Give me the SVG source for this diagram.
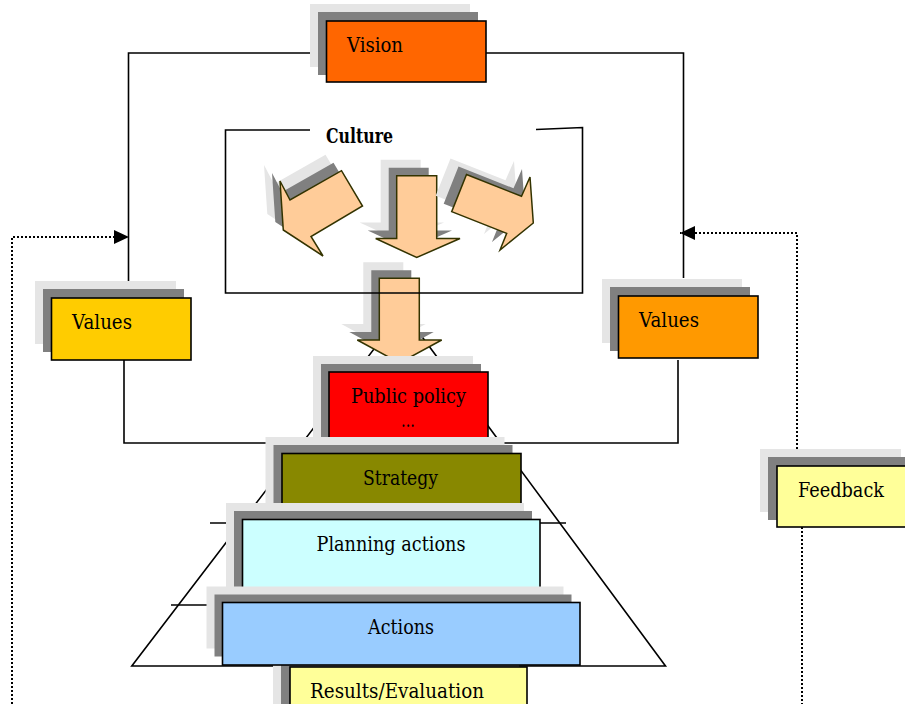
<svg xmlns="http://www.w3.org/2000/svg" xmlns:xlink="http://www.w3.org/1999/xlink" width="905" height="704" viewBox="0 0 905 704">
<style>
  .ln{fill:none;stroke:#000;stroke-width:1.6}
  .dot{fill:none;stroke:#000;stroke-width:2;stroke-dasharray:2 2}
  .s2{fill:#e5e5e5;stroke:none}
  .s1{fill:#808080;stroke:none}
  .bx{stroke:#000;stroke-width:1.6}
  .ar{fill:#ffcc99;stroke:#333300;stroke-width:1.5;stroke-linejoin:miter}
  .t{font-family:"DejaVu Serif","Liberation Serif",serif;font-size:20px;fill:#000}
  .tb{font-family:"DejaVu Serif","Liberation Serif",serif;font-size:21px;font-weight:bold;fill:#000}
</style>
<defs>
  <marker id="ah" markerUnits="userSpaceOnUse" markerWidth="15" markerHeight="14" refX="15" refY="7" orient="auto">
    <path d="M0,0 L15,7 L0,14 z" fill="#000"/>
  </marker>
  <polygon id="aL" points="280,181 290,200 341.5,170.7 362.5,206 311,236.5 323,256 283.3,230"/>
  <polygon id="aM" points="396.7,175.7 436.7,175.7 436.7,238.5 460,238.5 416.7,257.5 375.7,238.5 396.7,238.5"/>
  <polygon id="aR" points="466.5,174.5 521.5,196.3 530,177 533.3,223 500,250 506.7,233.3 451.7,211.7"/>
  <polygon id="aB" points="379.3,278.3 419.3,278.3 419.3,340 441.7,340 399.5,363 357.3,340 379.3,340"/>
</defs>

<g id="connectors">
  <polyline class="ln" points="128.5,281 128.5,53 683.5,53 683.5,278"/>
  <polyline class="ln" points="124,360 124,443 678,443 678,360"/>
  <path class="dot" d="M12,704 L12,237 L129,237" marker-end="url(#ah)"/>
  <path class="dot" d="M797,449 L797,233 L680,233" marker-end="url(#ah)"/>
  <path class="dot" d="M802,527 L802,704"/>
</g>

<g id="pyramid">
  <polygon class="ln" points="403,311 665.5,666 131.8,666"/>
  <line class="ln" x1="210" y1="523" x2="566" y2="523"/>
  <line class="ln" x1="171" y1="605" x2="400" y2="605"/>
</g>

<g id="culture">
  <use href="#aL" class="s2" x="-16" y="-16"/>
  <use href="#aL" class="s1" x="-8" y="-8"/>
  <use href="#aL" class="ar"/>
  <use href="#aM" class="s2" x="-16" y="-16"/>
  <use href="#aM" class="s1" x="-8" y="-8"/>
  <use href="#aM" class="ar"/>
  <use href="#aR" class="s2" x="-16" y="-16"/>
  <use href="#aR" class="s1" x="-8" y="-8"/>
  <use href="#aR" class="ar"/>
  <use href="#aB" class="s2" x="-16" y="-16"/>
  <use href="#aB" class="s1" x="-8" y="-8"/>
  <use href="#aB" class="ar"/>
  <polyline class="ln" points="310,130 225.5,130 225.5,293 582.5,293 582.5,127.5 536,129.5"/>
  <text class="tb" x="326" y="143" textLength="67" lengthAdjust="spacingAndGlyphs">Culture</text>
</g>

<g id="public-policy">
  <rect class="s2" x="313" y="356" width="160" height="90"/>
  <rect class="s1" x="321" y="364" width="160" height="90"/>
  <rect class="bx" fill="#ff0000" x="329" y="372" width="159" height="80"/>
  <text class="t" x="351" y="403" textLength="115" lengthAdjust="spacingAndGlyphs">Public policy</text>
  <text class="t" x="401" y="427" textLength="14" lengthAdjust="spacingAndGlyphs">...</text>
</g>

<g id="strategy">
  <rect class="s2" x="265.5" y="437" width="239" height="75"/>
  <rect class="s1" x="273.5" y="445" width="239" height="75"/>
  <rect class="bx" fill="#888800" x="282" y="453.5" width="239" height="60"/>
  <text class="t" x="363" y="485" textLength="75" lengthAdjust="spacingAndGlyphs">Strategy</text>
</g>

<g id="planning-actions">
  <rect class="s2" x="226" y="503" width="298" height="90"/>
  <rect class="s1" x="234" y="511" width="298" height="90"/>
  <rect class="bx" fill="#ccffff" x="242.5" y="519.5" width="297.5" height="72"/>
  <text class="t" x="316.5" y="551" textLength="149" lengthAdjust="spacingAndGlyphs">Planning actions</text>
</g>

<g id="results-evaluation">
  <rect class="s2" x="273" y="665" width="238" height="50"/>
  <rect class="s1" x="281" y="665" width="238" height="50"/>
  <rect class="bx" fill="#ffff99" x="290" y="667" width="237" height="50"/>
  <text class="t" x="310" y="698" textLength="174" lengthAdjust="spacingAndGlyphs">Results/Evaluation</text>
</g>

<g id="actions">
  <rect class="s2" x="206.5" y="586.5" width="357" height="62"/>
  <rect class="s1" x="214.5" y="594.5" width="357" height="62"/>
  <rect class="bx" fill="#99ccff" x="222.5" y="602.5" width="357.5" height="62.5"/>
  <text class="t" x="368" y="634" textLength="66" lengthAdjust="spacingAndGlyphs">Actions</text>
</g>

<g id="values-left">
  <rect class="s2" x="35" y="281" width="141" height="63"/>
  <rect class="s1" x="43" y="289" width="141" height="63"/>
  <rect class="bx" fill="#ffcc00" x="51.5" y="298" width="139.5" height="62"/>
  <text class="t" x="72" y="329" textLength="60" lengthAdjust="spacingAndGlyphs">Values</text>
</g>

<g id="values-right">
  <rect class="s2" x="602" y="279" width="140" height="64"/>
  <rect class="s1" x="610" y="287" width="140" height="64"/>
  <rect class="bx" fill="#ff9900" x="618.5" y="296" width="139.5" height="62"/>
  <text class="t" x="639" y="327" textLength="60" lengthAdjust="spacingAndGlyphs">Values</text>
</g>

<g id="vision">
  <rect class="s2" x="310" y="4" width="160" height="63"/>
  <rect class="s1" x="318" y="12" width="160" height="63"/>
  <rect class="bx" fill="#ff6600" x="326.5" y="21" width="159.5" height="61"/>
  <text class="t" x="347" y="52" textLength="56" lengthAdjust="spacingAndGlyphs">Vision</text>
</g>

<g id="feedback">
  <rect class="s2" x="760" y="449" width="141" height="63"/>
  <rect class="s1" x="768" y="457" width="141" height="63"/>
  <rect class="bx" fill="#ffff99" x="777" y="466" width="140" height="61"/>
  <text class="t" x="798" y="497" textLength="86" lengthAdjust="spacingAndGlyphs">Feedback</text>
</g>
</svg>
